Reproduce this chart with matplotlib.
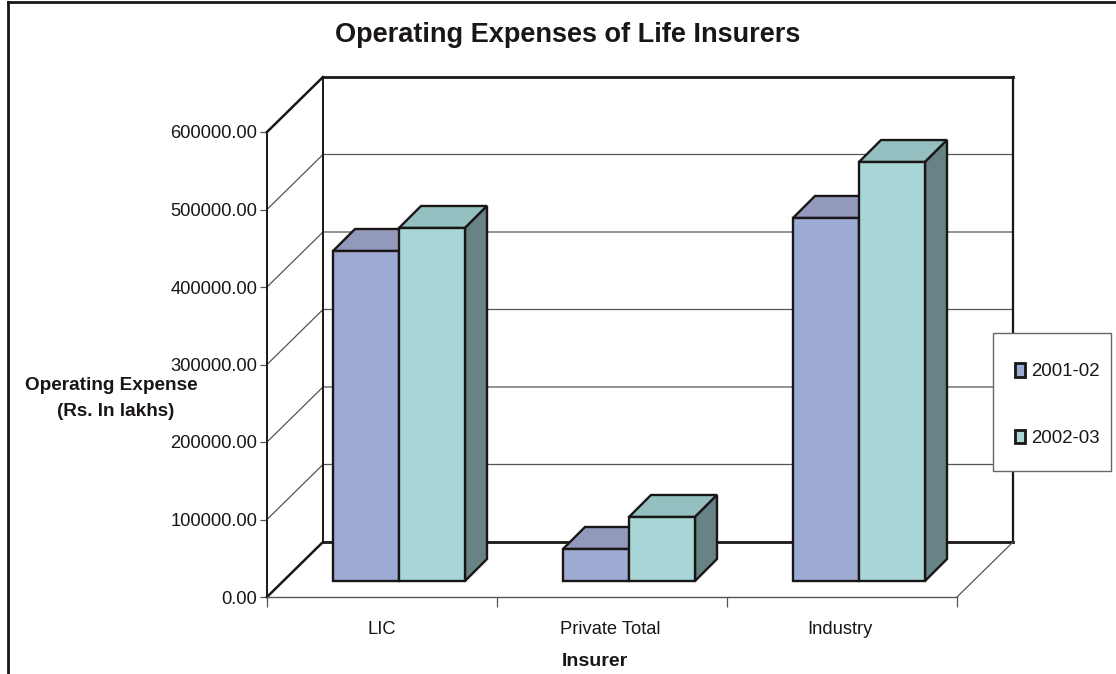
import matplotlib
matplotlib.use("Agg")
import matplotlib.pyplot as plt
from matplotlib.patches import Polygon, Patch, Rectangle
from matplotlib.lines import Line2D

plt.rcParams['font.family'] = ['Liberation Sans', 'DejaVu Sans']

categories = ["LIC", "Private Total", "Industry"]
series_names = ["2001-02", "2002-03"]
values_2001 = [425800, 41300, 468400]
values_2002 = [455500, 82600, 540600]
y_ticks = [0, 100000, 200000, 300000, 400000, 500000, 600000]

W, H = 1116, 674
fig = plt.figure(figsize=(W / 100, H / 100), dpi=100, facecolor="white")
ax = fig.add_axes([267 / W, (H - 597) / H, 690 / W, 465 / H])
ax.set_xlim(0, 3)
ax.set_ylim(0, 600000)
ax.patch.set_visible(False)

PX = 3 / 690
PY = 600000 / 465
wall_dx, wall_dy = 56 * PX, 55 * PY
bar_off_x, bar_off_y = 17, 16
dep_x, dep_y = 22 * PX, 22 * PY
bar_w = 66 * PX
DARK = "#1a1616"
GRID = "#555555"
LW = 1.7

def ln(xs, ys, color=DARK, lw=LW, z=2):
    ax.plot(xs, ys, color=color, lw=lw, clip_on=False, zorder=z, solid_capstyle="projecting")

# gridlines on side and back wall
for t in y_ticks[1:-1]:
    ln([0, wall_dx, 3 + wall_dx], [t, t + wall_dy, t + wall_dy], GRID, 0.9, 1)
# walls and floor
ln([wall_dx, wall_dx], [wall_dy, 600000 + wall_dy], DARK, 1.4)
ln([3 + wall_dx, 3 + wall_dx], [wall_dy, 600000 + wall_dy], DARK, 1.6)
ln([wall_dx, 3 + wall_dx], [600000 + wall_dy] * 2, DARK, 2.0)
ln([wall_dx, 3 + wall_dx], [wall_dy, wall_dy], DARK, 2.0)
ln([0, wall_dx], [600000, 600000 + wall_dy], DARK, 1.8)
ln([0, wall_dx], [0, wall_dy], DARK, 1.8)
ln([3, 3 + wall_dx], [0, wall_dy], GRID, 0.9)

front = ["#9daad3", "#a9d6d6"]
top = ["#9399bd", "#95c0c1"]
side = ["#6b6f8a", "#678385"]
base = bar_off_y * PY
for s, vals in enumerate([values_2001, values_2002]):
    xs = [i + 0.5 + bar_off_x * PX + (s - 1) * bar_w for i in range(len(categories))]
    ax.bar(xs, vals, width=bar_w, bottom=base, align="edge", color=front[s],
           edgecolor=DARK, linewidth=LW, zorder=5 + s, clip_on=False)
    for x0, v in zip(xs, vals):
        y1 = base + v
        x1 = x0 + bar_w
        ax.add_patch(Polygon([(x0, y1), (x1, y1), (x1 + dep_x, y1 + dep_y), (x0 + dep_x, y1 + dep_y)],
                             closed=True, fc=top[s], ec=DARK, lw=LW, zorder=4 + s, clip_on=False))
        ax.add_patch(Polygon([(x1, base), (x1, y1), (x1 + dep_x, y1 + dep_y), (x1 + dep_x, base + dep_y)],
                             closed=True, fc=side[s], ec=DARK, lw=LW, zorder=4 + s, clip_on=False))

# axes
for sp in ["top", "right"]:
    ax.spines[sp].set_visible(False)
ax.spines["left"].set_color(DARK)
ax.spines["left"].set_linewidth(1.4)
ax.spines["bottom"].set_color(GRID)
ax.spines["bottom"].set_linewidth(1.0)
ax.set_yticks(y_ticks)
ax.set_yticklabels([f"{t:.2f}" for t in y_ticks], fontsize=13.2, color="#1a1616")
ax.tick_params(axis="y", length=5, width=0.9, color=GRID, pad=2)
ax.set_xticks([0, 1, 2, 3])
ax.set_xticklabels([])
ax.tick_params(axis="x", which="major", length=7, width=0.9, color=GRID)
ax.set_xticks([0.5, 1.5 - 2 * PX, 2.5 - 2 * PX], minor=True)
ax.set_xticklabels(categories, minor=True, fontsize=13.2, color="#1a1616")
ax.tick_params(axis="x", which="minor", length=0, pad=17.5)

fig.text(568 / W, 1 - 35 / H, "Operating Expenses of Life Insurers", ha="center", va="center",
         fontsize=19.5, fontweight="bold", color="#1a1616")
fig.text(595 / W, 1 - 662 / H, "Insurer", ha="center", va="center",
         fontsize=14, fontweight="bold", color="#1a1616")
fig.text(111.5 / W, 1 - 385 / H, "Operating Expense", ha="center", va="center",
         fontsize=13.7, fontweight="bold", color="#1a1616")
fig.text(116 / W, 1 - 412 / H, "(Rs. In lakhs)", ha="center", va="center",
         fontsize=13.6, fontweight="bold", color="#1a1616")

# outer frame fragments
fig.add_artist(Line2D([7.5 / W, 7.5 / W], [0, 1 - 1.5 / H], color=DARK, lw=2))
fig.add_artist(Line2D([7.5 / W, 1], [1 - 1.5 / H, 1 - 1.5 / H], color=DARK, lw=2))

# legend box and entries
ax.add_patch(Rectangle((993 / W, 1 - 471 / H), 118 / W, 138 / H, transform=fig.transFigure,
                       fc="white", ec="#666666", lw=1.0, zorder=19, clip_on=False))
handles = [Patch(facecolor=front[i], edgecolor=DARK, linewidth=2.0) for i in range(2)]
leg = ax.legend(handles, series_names, loc="center left",
                bbox_to_anchor=(1015 / W, 1 - 405 / H), bbox_transform=fig.transFigure,
                fontsize=13.4, frameon=False,
                handlelength=0.55, handleheight=0.75, handletextpad=0.3,
                labelspacing=2.65, borderpad=0, borderaxespad=0, labelcolor="#1a1616")
leg.set_zorder(20)

fig.savefig("out.png", dpi=100)
